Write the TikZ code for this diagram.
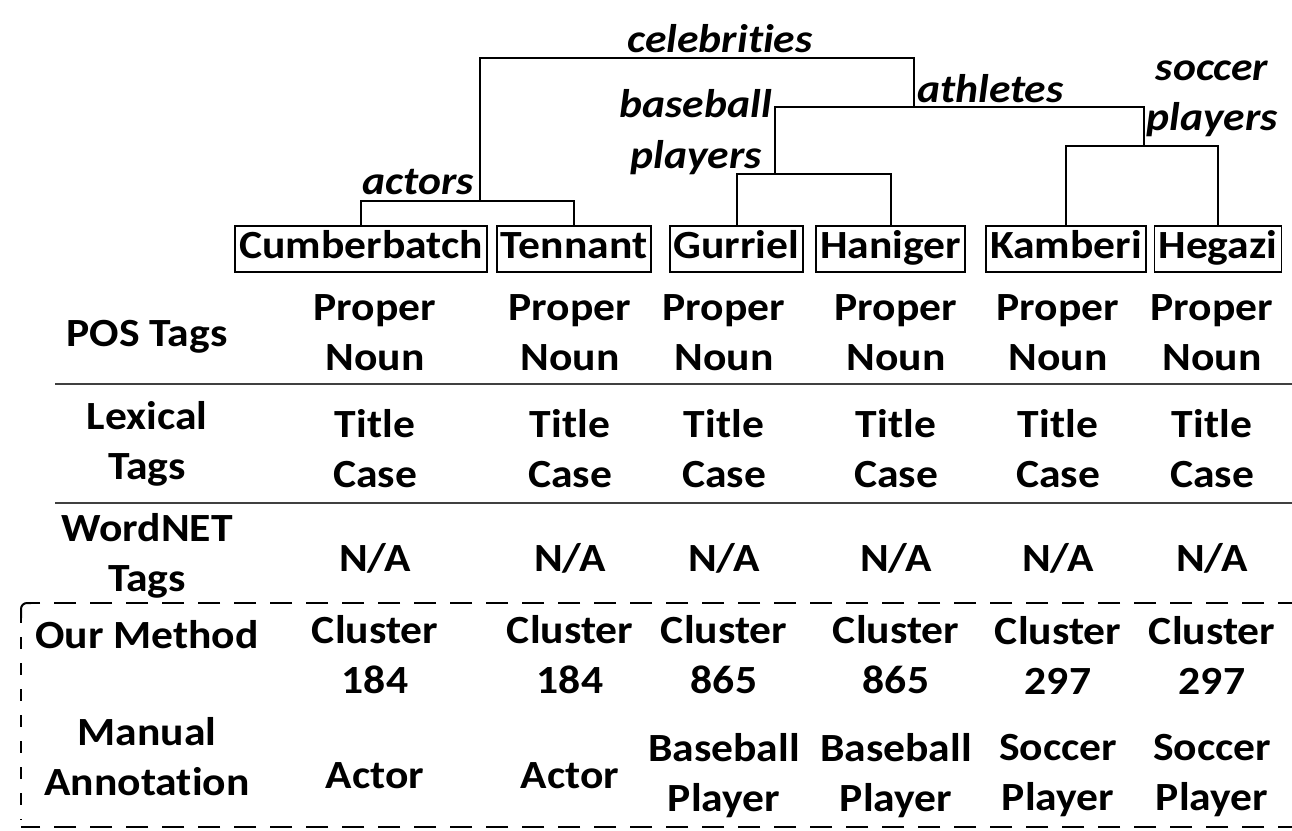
\documentclass[tikz,border=0pt]{standalone}
\usepackage{fontspec}
\setmainfont{Carlito}[FakeStretch=1.09,Ligatures=NoCommon]
\begin{document}
\begin{tikzpicture}[x=1pt,y=-1pt,
    namebox/.style={draw,line width=1.8pt,text height=29pt,text depth=10pt,inner xsep=4pt,inner ysep=3.5pt,font=\fontsize{40}{50}\selectfont\bfseries},
    cell/.style={align=center,inner sep=0pt,font=\fontsize{40}{50}\selectfont\bfseries},
    kind/.style={inner sep=0pt,font=\fontsize{40}{50}\selectfont\bfseries\itshape},
    tree/.style={line width=2pt},
    rule/.style={line width=2pt,black!75},
    frame/.style={line width=2pt,dash pattern=on 22pt off 14pt}]
\useasboundingbox (0,0) rectangle (1292,830);
% leaves of the tree
\node[namebox] (cumb) at (361,249) {Cumberbatch};
\node[namebox] (tenn) at (574,249) {Tennant};
\node[namebox] (gurr) at (736.5,249) {Gurriel};
\node[namebox] (hani) at (890.5,249) {Haniger};
\node[namebox] (kamb) at (1066,249) {Kamberi};
\node[namebox] (hega) at (1218,249) {Hegazi};
% joins
\coordinate (actj) at (480,201);
\coordinate (basej) at (775,174);
\coordinate (socj) at (1144,146);
\coordinate (athj) at (914,107);
\coordinate (rootj) at (700,58);
\draw[tree] (cumb.north) |- (actj) -| (tenn.north);
\draw[tree] (gurr.north) |- (basej) -| (hani.north);
\draw[tree] (kamb.north) |- (socj) -| (hega.north);
\draw[tree] (basej) |- (athj) -| (socj);
\draw[tree] (actj) |- (rootj) -| (athj);
% cluster names
\node[kind,anchor=base] (celeb) at (720,52) {celebrities};
\node[kind,anchor=base west] (athl) at (917,102) {athletes};
\node[kind,anchor=base east] (base1) at (772,117) {baseball};
\node[kind,anchor=base east] (base2) at (762,168) {players};
\node[kind,anchor=base east] (act) at (474,194) {actors};
\node[kind,anchor=base] (soc1) at (1212,80) {soccer};
\node[kind,anchor=base] (soc2) at (1212,130) {players};
% row names
\node[cell] (posname) at (147,337) {POS Tags};
\node[cell] (lexname) at (147,444) {Lexical\\Tags};
\node[cell] (wnname) at (147,556) {WordNET\\Tags};
\node[cell] (ourname) at (147,635) {Our Method};
\node[cell] (manname) at (147,757) {Manual\\Annotation};
% table body
\foreach \x/\i/\c/\a in {375/1/184/Actor,570/2/184/Actor,724/3/865/Baseball\\Player,
    896/4/865/Baseball\\Player,1058/5/297/Soccer\\Player,1212/6/297/Soccer\\Player}{
  \node[cell] (pos\i) at (\x,333) {Proper\\Noun};
  \node[cell] (lex\i) at (\x,449) {Title\\Case};
  \node[cell] (wn\i) at (\x,558) {N/A};
  \node[cell] (our\i) at (\x,655) {Cluster\\\c};
  \node[cell] (man\i) at (\x,776) {\a};
}
% rules and dashed frame
\draw[rule] (55,384) -- (1292,384);
\draw[rule] (55,503) -- (1292,503);
\draw[frame] (1300,603) -- (29,603);
\draw[frame] (1300,827) -- (21,827);
\draw[line width=2pt,dash pattern=on 12pt off 14pt] (21,611) -- (21,820);
\draw[line width=2pt,rounded corners=6pt] (21,618) -- (21,603) -- (31,603);
\end{tikzpicture}
\end{document}
